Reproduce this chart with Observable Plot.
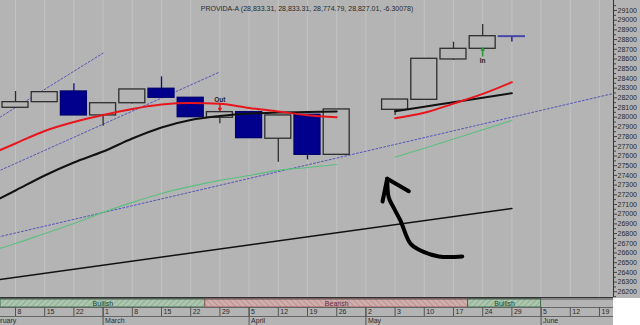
<!DOCTYPE html>
<html>
<head>
<meta charset="utf-8">
<script src="https://cdn.jsdelivr.net/npm/d3@7"></script>
<script src="https://cdn.jsdelivr.net/npm/@observablehq/plot@0.6"></script>
<style>
  html, body { margin: 0; padding: 0; background: #ffffff; }
  #wrap { width: 640px; }
  #wrap svg { display: block; overflow: hidden; }
</style>
</head>
<body>
<div id="wrap"></div>
<script>
// ---------------- data ----------------
const title = "PROVIDA-A (28,833.31, 28,833.31, 28,774.79, 28,827.01, -6.30078)";

const weekLabels = ["8","15","22","1","8","15","22","29","5","12","19","26","2","3","10","17","24","29","5","12","19"];
const monthNames = ["February","March","April","May","June"];
const monthWeek = [-1, 3, 8, 12, 18];

const candleWeek  = [0, 1, 2, 3, 4, 5, 6, 7, 8, 9, 10, 11, 13, 14, 15, 16, 17];
const candleOpen  = [28097, 28155, 28265, 28018, 28144, 28293, 28200, 27994, 28052, 27778, 28025, 27612, 28076, 28179, 28595, 28705, 28833.31];
const candleHigh  = [28265, 28258, 28344, 28144, 28286, 28416, 28200, 28052, 28052, 28018, 28025, 28080, 28182, 28602, 28773, 28956, 28833.31];
const candleLow   = [28097, 28155, 28018, 27907, 28135, 28200, 28000, 27932, 27784, 27536, 27560, 27612, 28018, 28179, 28585, 28705, 28774.79];
const candleClose = [28155, 28258, 28018, 28144, 28286, 28200, 28000, 28052, 27784, 28018, 27612, 28080, 28182, 28602, 28705, 28835, 28827.01];

const maWeekA = [-1, 0, 1, 2, 3, 4, 5, 6, 7, 8, 9, 10, 11];
const redA    = [27600, 27729, 27858, 27950, 28023, 28085, 28131, 28146, 28138, 28095, 28059, 28021, 28000];
const blackA  = [27090, 27244, 27399, 27533, 27646, 27780, 27894, 27971, 28012, 28038, 28048, 28054, 28059];
const greenA  = [26605, 26698, 26801, 26904, 27018, 27121, 27213, 27286, 27348, 27399, 27451, 27481, 27512];
const maWeekB = [13, 14, 15, 16, 17];
const redB    = [27990, 28045, 28140, 28240, 28361];
const blackB  = [28062, 28108, 28155, 28200, 28247];
const greenB  = [27588, 27680, 27775, 27870, 27966];

// trend lines (two end points each)
const dotted1Week = [-1, 3],  dotted1Val = [27912, 28661];
const dotted2Week = [-1, 7],  dotted2Val = [27388, 28467];
const dotted3Week = [-1, 21], dotted3Val = [26736, 28281];
const supportWeek = [-1, 17], supportVal = [26307, 27059];

// hand-drawn arrow annotation
const scribbleWeek = [15.30, 14.50, 13.87, 13.53, 13.18, 12.91, 12.78, 12.73];
const scribbleVal  = [26564, 26564, 26626, 26695, 26935, 27090, 27175, 27365];
const scribbleHeadWeek = [12.73, 13.47], scribbleHeadVal = [27365, 27237];
const scribbleHookWeek = [12.73, 12.57], scribbleHookVal = [27365, 27131];

// signals
const signalLabel = ["Out", "In"];
const signalWeek  = [7, 16];
const signalText  = [28182, 28585];
const signalFrom  = [28141, 28632];
const signalTo    = [28069, 28712];
const signalColor = ["#e0141c", "#2e9a3c"];

// bands
const bandLabel = ["Bullish", "Bearish", "Bullish"];
const bandStart = [-0.514, 6.5, 15.5];
const bandEnd   = [6.5, 15.5, 18];
const bandKind  = ["bull", "bear", "bull"];

const yTicks = d3.range(26200, 29101, 100);
const yMinor = d3.range(26150, 29201, 100);

// ---------------- build ----------------
const xDomain = [-0.514, 20.48];
const yDomain = [26141, 29203];
const BG = "#b4b4b4";
const FONT = "'Liberation Sans', Arial, sans-serif";
const HW = 0.445;

const zip = (ws, vs) => ws.map((w, k) => ({w, v: vs[k]}));
const candles = candleWeek.map((w, k) => ({w, open: candleOpen[k], high: candleHigh[k], low: candleLow[k], close: candleClose[k], up: candleClose[k] > candleOpen[k]}));
const signals = signalLabel.map((t, k) => ({t, w: signalWeek[k], tv: signalText[k], a: signalFrom[k], b: signalTo[k], c: signalColor[k]}));
const ticks = weekLabels.map((t, k) => ({t, w: k}));
const months = monthNames.map((t, k) => ({t, w: monthWeek[k]}));
const bands = bandLabel.map((t, k) => ({t, s: bandStart[k], e: bandEnd[k], kind: bandKind[k]}));

const main = Plot.plot({
  width: 640, height: 298,
  marginLeft: 0, marginRight: 27, marginTop: 0, marginBottom: 1,
  x: {domain: xDomain, axis: null},
  y: {domain: yDomain, axis: null},
  style: {background: BG, fontFamily: FONT, overflow: "hidden"},
  marks: [
    Plot.ruleX(ticks, {x: "w", stroke: "#c2c2c2", strokeWidth: 1}),
    Plot.line(zip(supportWeek, supportVal), {x: "w", y: "v", stroke: "#111", strokeWidth: 1.5, clip: true}),
    Plot.line(zip(dotted1Week, dotted1Val), {x: "w", y: "v", stroke: "#5656b8", strokeWidth: 1, strokeDasharray: "2,2", clip: true}),
    Plot.line(zip(dotted2Week, dotted2Val), {x: "w", y: "v", stroke: "#5656b8", strokeWidth: 1, strokeDasharray: "2,2", clip: true}),
    Plot.line(zip(dotted3Week, dotted3Val), {x: "w", y: "v", stroke: "#5656b8", strokeWidth: 1, strokeDasharray: "2,2", clip: true}),
    Plot.line(zip(maWeekA, greenA), {x: "w", y: "v", stroke: "#5cbf80", strokeWidth: 1.2, curve: "monotone-x", clip: true}),
    Plot.line(zip(maWeekB, greenB), {x: "w", y: "v", stroke: "#5cbf80", strokeWidth: 1.2, curve: "monotone-x", clip: true}),
    Plot.ruleX(candles, {x: "w", y1: "low", y2: "high", stroke: d => d.up ? "#2e2e2e" : "#0c0c88", strokeWidth: 1.3}),
    Plot.rect(candles, {x1: d => d.w - HW, x2: d => d.w + HW, y1: "open", y2: "close",
      fill: d => d.up ? BG : "#00008c", stroke: d => d.up ? "#2e2e2e" : (d.open - d.close < 20 ? "#4646aa" : "#000070"), strokeWidth: 1.3}),
    Plot.line(zip(maWeekA, blackA), {x: "w", y: "v", stroke: "#111", strokeWidth: 2, curve: "monotone-x", clip: true}),
    Plot.line(zip(maWeekB, blackB), {x: "w", y: "v", stroke: "#111", strokeWidth: 2, curve: "monotone-x", clip: true}),
    Plot.line(zip(maWeekA, redA), {x: "w", y: "v", stroke: "#e8161c", strokeWidth: 2, curve: "monotone-x", clip: true}),
    Plot.line(zip(maWeekB, redB), {x: "w", y: "v", stroke: "#e8161c", strokeWidth: 2, curve: "monotone-x", clip: true}),
    Plot.line(zip(scribbleWeek, scribbleVal), {x: "w", y: "v", stroke: "#000", strokeWidth: 4, curve: "catmull-rom", strokeLinecap: "round", strokeLinejoin: "round"}),
    Plot.line(zip(scribbleHeadWeek, scribbleHeadVal), {x: "w", y: "v", stroke: "#000", strokeWidth: 4, strokeLinecap: "round"}),
    Plot.line(zip(scribbleHookWeek, scribbleHookVal), {x: "w", y: "v", stroke: "#000", strokeWidth: 4, strokeLinecap: "round"}),
    Plot.arrow(signals, {x: "w", y1: "a", y2: "b", stroke: "c", strokeWidth: 1.5, headLength: 4}),
    Plot.text(signals, {x: "w", y: "tv", text: "t", fontSize: 6.5, fontWeight: "bold", fill: "#222"}),
    Plot.text([title], {frameAnchor: "top", dy: 6, fontSize: 7, fill: "#2a2a2a"}),
    Plot.ruleX([xDomain[1]], {stroke: "#333", strokeWidth: 1}),
    Plot.ruleY([yDomain[0]], {stroke: "#333", strokeWidth: 1}),
    Plot.axisY(yMinor, {anchor: "right", tickSize: 2, tickFormat: () => "", stroke: "#444"}),
    Plot.axisY(yTicks, {anchor: "right", tickSize: 3, tickPadding: 1, fontSize: 7, tickFormat: d => String(d), fill: "#2a2a2a", stroke: "#444"})
  ]
});

const strip = Plot.plot({
  width: 613, height: 27,
  marginLeft: 0, marginRight: 0, marginTop: 0, marginBottom: 0,
  x: {domain: xDomain, axis: null},
  y: {domain: [0, 27], range: [0, 27], axis: null},
  style: {background: BG, fontFamily: FONT, overflow: "hidden"},
  marks: [
    Plot.rect(bands, {x1: "s", x2: "e", y1: 0.5, y2: 9, fill: d => `url(#hatch-${d.kind})`,
      stroke: d => d.kind === "bull" ? "#3a6e48" : "#9a5a5a", strokeWidth: 1}),
    Plot.text(bands, {x: d => (d.s + d.e) / 2, y: 5, text: "t", fontSize: 7,
      fill: d => d.kind === "bull" ? "#24452c" : "#6e2c2c"}),
    Plot.ruleY([0.5], {stroke: "#555"}),
    Plot.ruleY([9, 18], {stroke: "#666"}),
    Plot.ruleX(ticks, {x: "w", y1: 9, y2: 18, stroke: "#555"}),
    Plot.text(ticks, {x: "w", y: 13.5, text: "t", dx: 2, textAnchor: "start", fontSize: 7, fill: "#2a2a2a"}),
    Plot.ruleX(months, {x: "w", y1: 9, y2: 27, stroke: "#555"}),
    Plot.text(months, {x: "w", y: 22.5, text: "t", dx: 2, textAnchor: "start", fontSize: 7, fill: "#2a2a2a"})
  ]
});

d3.select(strip).insert("defs", ":first-child").html(`
  <pattern id="hatch-bull" width="4" height="4" patternUnits="userSpaceOnUse" patternTransform="rotate(45)">
    <rect width="4" height="4" fill="#aec6b0"></rect>
    <line x1="0" y1="0" x2="0" y2="4" stroke="#7ea98a" stroke-width="1.4"></line>
  </pattern>
  <pattern id="hatch-bear" width="4" height="4" patternUnits="userSpaceOnUse" patternTransform="rotate(-45)">
    <rect width="4" height="4" fill="#cfaeae"></rect>
    <line x1="0" y1="0" x2="0" y2="4" stroke="#c08686" stroke-width="1.4"></line>
  </pattern>`);

const wrap = document.getElementById("wrap");
wrap.appendChild(main);
wrap.appendChild(strip);
</script>
</body>
</html>
